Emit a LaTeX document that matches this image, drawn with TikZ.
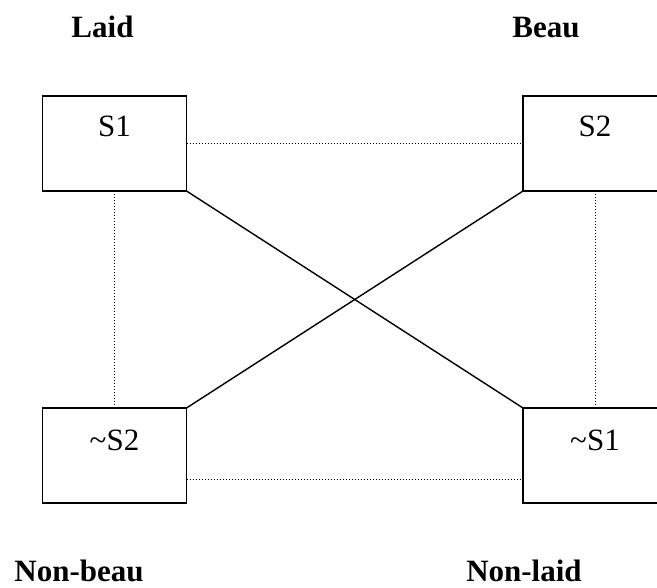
\documentclass[tikz,border=0pt]{standalone}
\usepackage{fontspec}
\setmainfont{Liberation Serif}
\begin{document}
\begin{tikzpicture}[x=1pt,y=-1pt,
  box/.style={draw, line width=1.6pt, minimum width=144pt, minimum height=95pt, inner sep=0pt, outer sep=0pt},
  boxtext/.style={font=\fontsize{31}{37}\selectfont, anchor=base, inner sep=0pt},
  title/.style={font=\fontsize{31}{37}\selectfont\bfseries, anchor=base, inner sep=0pt},
  link/.style={line width=1.4pt},
  dots/.style={dotted, line width=1pt}]
\clip (0,0) rectangle (657,588);
\useasboundingbox (0,0) rectangle (657,588);
\node[box] (s1) at (114.5,143.5) {};
\node[box] (s2) at (595,143.5) {};
\node[box] (ns2) at (114.5,455.5) {};
\node[box] (ns1) at (595,455.5) {};
\node[boxtext] (t1) at (114.5,137) {S1};
\node[boxtext] (t2) at (595,137) {S2};
\node[boxtext] (t3) at (114.5,450) {\symbol{126}S2};
\node[boxtext] (t4) at (595,450) {\symbol{126}S1};
\node[title] (laid) at (102.5,38) {Laid};
\node[title] (beau) at (546,38) {Beau};
\node[title] (nbeau) at (79,581) {Non-beau};
\node[title] (nlaid) at (524,581) {Non-laid};
\draw[link] (s1.south east) -- (ns1.north west);
\draw[link] (ns2.north east) -- (s2.south west);
\draw[dots] (s1.east) -- (s2.west);
\draw[dots] (s1.south) -- (ns2.north);
\draw[dots] (s2.south) -- (ns1.north);
\draw[dots] ([yshift=-24pt]ns2.east) -- ([yshift=-24pt]ns1.west);
\end{tikzpicture}
\end{document}
